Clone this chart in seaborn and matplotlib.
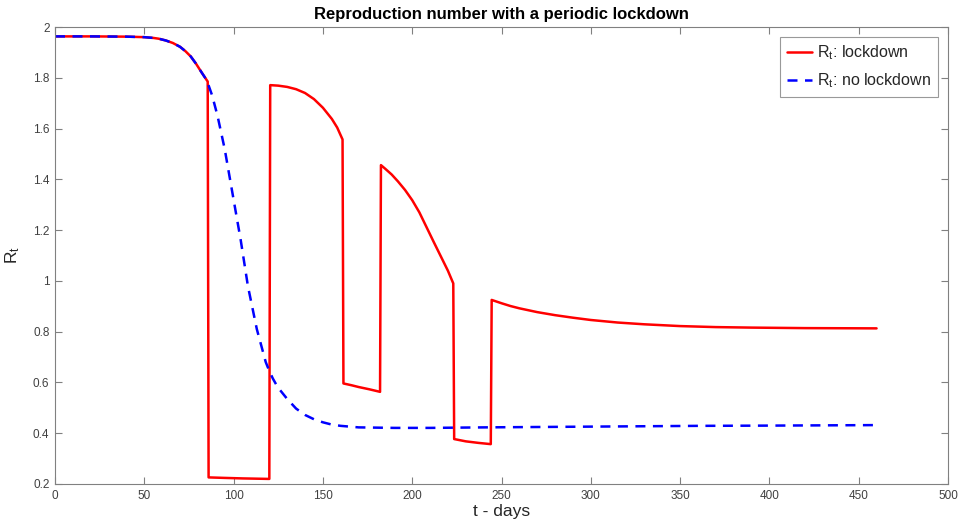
import matplotlib
matplotlib.use("Agg")
import matplotlib.pyplot as plt
import seaborn as sns
import pandas as pd

# ---- data ----
t_lock = [0, 20, 40, 50, 55, 58, 62, 66, 70, 73, 76, 79, 82, 85.5,
          86, 95, 105, 120,
          120.5, 125, 130, 135, 140, 145, 150, 155, 158, 161,
          161.5, 166, 170, 176, 182,
          182.5, 185, 188.5, 192, 196, 200, 204, 208, 212, 216, 220, 223,
          223.5, 230, 237, 244,
          244.5, 250, 255, 260, 270, 280, 290, 300, 315, 330, 350, 370, 390, 420, 460]
r_lock = [1.963, 1.963, 1.962, 1.960, 1.957, 1.954, 1.947, 1.937, 1.922, 1.905, 1.884, 1.855, 1.822, 1.785,
          0.226, 0.224, 0.222, 0.220,
          1.771, 1.769, 1.764, 1.755, 1.740, 1.716, 1.682, 1.638, 1.604, 1.557,
          0.596, 0.589, 0.582, 0.573, 0.563,
          1.456, 1.441, 1.419, 1.392, 1.358, 1.318, 1.270, 1.212, 1.154, 1.097, 1.040, 0.990,
          0.377, 0.368, 0.362, 0.357,
          0.925, 0.912, 0.901, 0.892, 0.877, 0.865, 0.855, 0.846, 0.836, 0.829, 0.822, 0.818, 0.816, 0.814, 0.813]

t_free = [0, 20, 40, 50, 55, 58, 62, 66, 70, 73, 76, 79, 82, 85, 88, 91, 95, 98, 100,
          104, 108, 113, 118, 120, 122, 124, 126, 130, 135, 140, 145, 150, 155, 160,
          170, 190, 210, 240, 280, 320, 360, 400, 430, 460]
r_free = [1.963, 1.963, 1.962, 1.960, 1.957, 1.954, 1.947, 1.937, 1.922, 1.905, 1.884,
          1.855, 1.822, 1.79, 1.73, 1.65, 1.52, 1.40, 1.32, 1.16, 0.98, 0.81, 0.68,
          0.645, 0.615, 0.59, 0.57, 0.535, 0.497, 0.472, 0.455, 0.443, 0.434, 0.429,
          0.423, 0.421, 0.421, 0.423, 0.425, 0.427, 0.429, 0.430, 0.431, 0.432]

x_ticks = [0, 50, 100, 150, 200, 250, 300, 350, 400, 450, 500]
y_ticks = [0.2, 0.4, 0.6, 0.8, 1.0, 1.2, 1.4, 1.6, 1.8, 2.0]
y_tick_labels = ["0.2", "0.4", "0.6", "0.8", "1", "1.2", "1.4", "1.6", "1.8", "2"]

label_lock = r"$\mathregular{R_t}$: lockdown"
label_free = r"$\mathregular{R_t}$: no lockdown"

df_lock = pd.DataFrame({"t": t_lock, "R": r_lock})
df_free = pd.DataFrame({"t": t_free, "R": r_free})

# ---- style ----
sns.set_style("white")
plt.rcParams["font.family"] = ["Liberation Sans", "DejaVu Sans"]
plt.rcParams["mathtext.fontset"] = "custom"
plt.rcParams["mathtext.rm"] = "Liberation Sans"
plt.rcParams["mathtext.it"] = "Liberation Sans:italic"

fig = plt.figure(figsize=(9.58, 5.27), dpi=100)
ax = fig.add_axes([55 / 958, 1 - 484 / 527, 893 / 958, 457 / 527])

sns.lineplot(data=df_lock, x="t", y="R", ax=ax, color="#ff0000", linewidth=1.8,
             estimator=None, sort=False, label=label_lock)
sns.lineplot(data=df_free, x="t", y="R", ax=ax, color="#0000ff", linewidth=1.8,
             estimator=None, sort=False, linestyle=(0, (4, 3)), label=label_free)

ax.set_xlim(0, 500)
ax.set_ylim(0.2, 2.0)
ax.set_xticks(x_ticks)
ax.set_xticklabels([str(v) for v in x_ticks])
ax.set_yticks(y_ticks)
ax.set_yticklabels(y_tick_labels)

spine_col = "#808080"
for s in ax.spines.values():
    s.set_visible(True)
    s.set_color(spine_col)
    s.set_linewidth(0.8)
ax.tick_params(direction="in", length=5, width=0.8, color=spine_col,
               labelcolor="#404040", labelsize=8.5, top=True, right=True,
               bottom=True, left=True, pad=4)

ax.set_title("Reproduction number with a periodic lockdown", fontsize=12,
             fontweight="bold", pad=6, color="#000000")
ax.set_xlabel("t - days", fontsize=12.5, color="#262626", labelpad=2)
ax.set_ylabel(r"$\mathregular{R_t}$", fontsize=12.5, color="#262626", labelpad=8)

leg = ax.legend(loc="upper right", fontsize=11.5, frameon=True, fancybox=False,
                handlelength=1.6, handletextpad=0.3, borderpad=0.45,
                labelspacing=0.55, borderaxespad=0.6)
leg.get_frame().set_edgecolor(spine_col)
leg.get_frame().set_linewidth(0.8)
for txt in leg.get_texts():
    txt.set_color("#262626")

fig.savefig("out.png", dpi=100)
